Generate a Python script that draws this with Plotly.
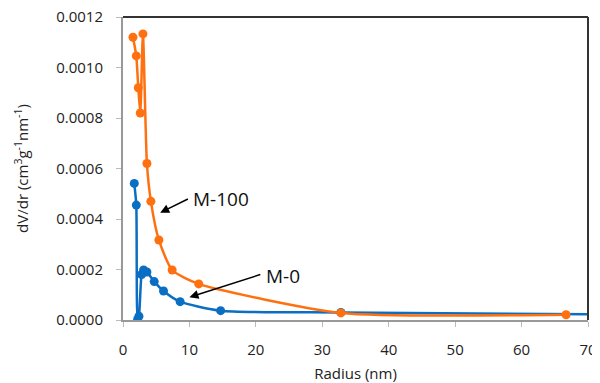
import plotly.graph_objects as go

# M-100 (orange)
m100_r = [1.5, 2.0, 2.3, 2.6, 3.0, 3.6, 4.2, 5.4, 7.4, 11.4, 32.8, 66.7]
m100_v = [0.00112, 0.001046, 0.00092, 0.00082, 0.001133, 0.00062, 0.00047,
          0.000317, 0.000198, 0.000143, 0.000028, 0.000021]

# M-0 (blue)
m0_r = [1.7, 2.0, 2.2, 2.4, 2.8, 3.1, 3.6, 4.7, 6.1, 8.6, 14.7, 32.8, 75.0]
m0_v = [0.000541, 0.000455, 0.000002, 0.000015, 0.00018, 0.000198, 0.00019,
        0.000152, 0.000115, 0.0000725, 0.000037, 0.00003, 0.000022]

x_ticks = [0, 10, 20, 30, 40, 50, 60, 70]
y_ticks = [0.0, 0.0002, 0.0004, 0.0006, 0.0008, 0.0010, 0.0012]

BLUE = "#0A6FC2"
ORANGE = "#FF7010"
FONT = "'Open Sans', Lato, sans-serif"

fig = go.Figure()
fig.add_trace(go.Scatter(x=m0_r, y=m0_v, mode="lines+markers",
                         line=dict(color=BLUE, width=2.5, shape="spline", smoothing=0.6),
                         marker=dict(color=BLUE, size=9), name="M-0"))
fig.add_trace(go.Scatter(x=m100_r, y=m100_v, mode="lines+markers",
                         line=dict(color=ORANGE, width=2.5, shape="spline", smoothing=0.6),
                         marker=dict(color=ORANGE, size=9), name="M-100"))

# page body has an 8px margin, so the figure is sized/offset to compensate
fig.update_layout(
    width=592, height=375,
    margin=dict(l=115, r=12, t=9, b=63),
    paper_bgcolor="white", plot_bgcolor="white",
    showlegend=False,
    font=dict(family=FONT, size=15, color="#222"),
    xaxis=dict(range=[0, 70], tickvals=x_ticks, showgrid=False, zeroline=False,
               automargin=False, ticklabeloverflow="allow",
               showline=True, linecolor="#999", linewidth=2,
               ticks="outside", ticklen=5, tickcolor="#bbb", tickwidth=1,
               ticklabelstandoff=10,
               title=dict(text="Radius (nm)", font=dict(size=15), standoff=11),
               tickfont=dict(size=15)),
    yaxis=dict(range=[0, 0.0012], tickvals=y_ticks, tickformat=".4f",
               showgrid=False, zeroline=False, automargin=False,
               ticklabeloverflow="allow",
               showline=True, linecolor="#999", linewidth=2,
               ticks="outside", ticklen=5, tickcolor="#bbb", tickwidth=1,
               ticklabelstandoff=10,
               title=dict(text="dV/dr (cm<sup>3</sup>g<sup>-1</sup>nm<sup>-1</sup>)",
                          font=dict(size=15), standoff=24),
               tickfont=dict(size=15)),
)

# top and right frame lines (black)
fig.add_shape(type="line", xref="paper", yref="paper", x0=0, x1=1, y0=1, y1=1,
              line=dict(color="#333", width=2))
fig.add_shape(type="line", xref="paper", yref="paper", x0=1, x1=1, y0=0, y1=1,
              line=dict(color="#333", width=2))

# arrows
fig.add_annotation(x=5.6, y=0.000425, ax=10.0, ay=0.000482, axref="x", ayref="y",
                   text="", showarrow=True, arrowhead=2, arrowsize=1.2, arrowwidth=1.5,
                   arrowcolor="black")
fig.add_annotation(x=10.0, y=0.00009, ax=20.9, ay=0.000182, axref="x", ayref="y",
                   text="", showarrow=True, arrowhead=2, arrowsize=1.2, arrowwidth=1.5,
                   arrowcolor="black")
# labels
fig.add_annotation(x=10.3, y=0.000479, text="M-100", showarrow=False,
                   xanchor="left", yanchor="middle", font=dict(size=19, color="#111"))
fig.add_annotation(x=21.3, y=0.000174, text="M-0", showarrow=False,
                   xanchor="left", yanchor="middle", font=dict(size=19, color="#111"))

fig.write_html("out.html")
